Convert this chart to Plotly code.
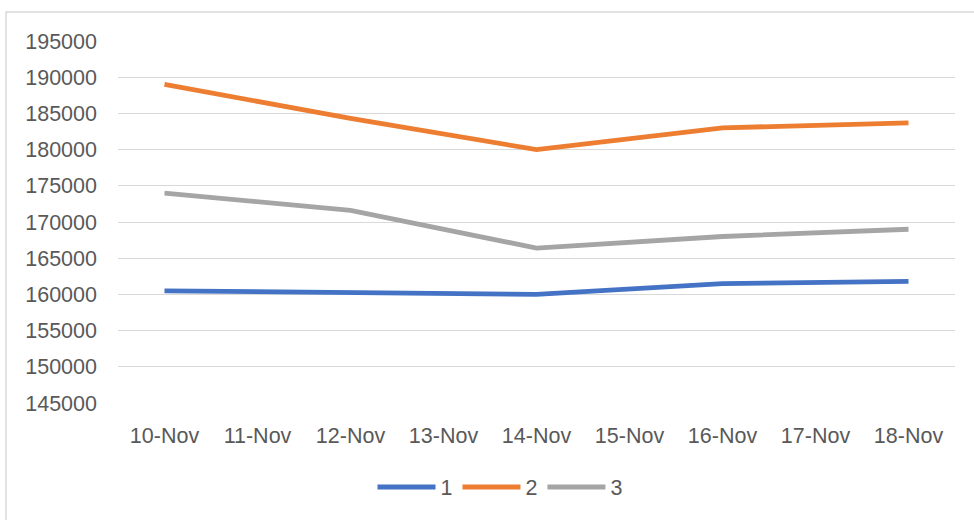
import plotly.graph_objects as go

categories = ["10-Nov", "11-Nov", "12-Nov", "13-Nov", "14-Nov", "15-Nov", "16-Nov", "17-Nov", "18-Nov"]
point_dates = ["10-Nov", "12-Nov", "14-Nov", "16-Nov", "18-Nov"]
series_1 = [160500, 160300, 160000, 161500, 161800]
series_2 = [189000, 184300, 180000, 183000, 183700]
series_3 = [174000, 171600, 166400, 168000, 169000]
series_names = ["1", "2", "3"]
colors = ["#4472C4", "#ED7D31", "#A5A5A5"]

FONT = "Liberation Sans"
TXT = "#595959"

fig = go.Figure()
for name, vals, col in zip(series_names, [series_1, series_2, series_3], colors):
    fig.add_trace(go.Scatter(x=point_dates, y=vals, name=name, mode="lines",
                             line=dict(color=col, width=4.8)))

L, R, T, B = 118, 19, 41, 117
W, H = 974, 520
pw, ph = W - L - R, H - T - B

def px(x):
    return (x - L) / pw

def py(y):
    return (H - B - y) / ph

fig.add_shape(type="rect", xref="paper", yref="paper",
              x0=px(6), x1=px(990), y0=py(540), y1=py(12),
              line=dict(color="#D9D9D9", width=1.5), fillcolor="rgba(0,0,0,0)", layer="below")

fig.update_layout(
    width=W, height=H,
    margin=dict(l=L, r=R, t=T, b=B),
    paper_bgcolor="white", plot_bgcolor="white",
    font=dict(family=FONT, size=21.5, color=TXT),
    showlegend=True,
    legend=dict(orientation="h", x=px(500), xanchor="center", y=py(487), yanchor="middle",
                font=dict(family=FONT, size=21.5, color=TXT), itemwidth=58,
                bgcolor="rgba(0,0,0,0)"),
    xaxis=dict(type="category", categoryorder="array", categoryarray=categories,
               tickmode="array", tickvals=categories, ticktext=categories,
               range=[-0.5, 8.5], showgrid=False, showline=False, zeroline=False,
               ticks="", ticklabelstandoff=17, tickfont=dict(size=21.5, color=TXT)),
    yaxis=dict(range=[145000, 195000], dtick=5000, tick0=145000, showgrid=True,
               gridcolor="#D9D9D9", gridwidth=1.3, zeroline=False, showline=False,
               ticks="", ticklabelstandoff=20, tickformat="d",
               tickfont=dict(size=21.5, color=TXT)),
)

fig.write_html("out.html", config={"displayModeBar": False},
               post_script="document.body.style.margin='0';document.body.style.padding='0';")
